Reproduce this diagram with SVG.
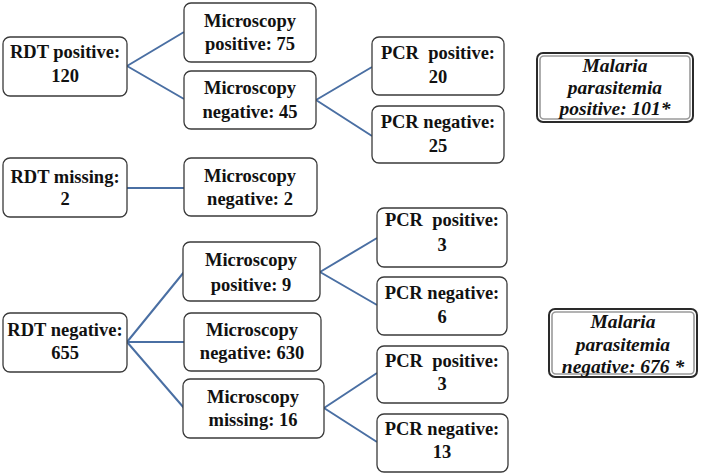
<svg xmlns="http://www.w3.org/2000/svg" width="701" height="475" viewBox="0 0 701 475" font-family="Liberation Serif, Times New Roman, serif">
<style>
.box{fill:#fff;stroke:#3a3a3a;stroke-width:1.3}
text{font-weight:bold;fill:#111;text-anchor:middle}
.t{font-size:18.5px}
.it{font-style:italic;font-size:19.5px}
.ob{fill:#fff;stroke:#2a2a2a;stroke-width:2}
.ib{fill:none;stroke:#9a9a9a;stroke-width:1.6}
.ln{stroke:#4a6fa3;stroke-width:2;fill:none}
</style>
<g id="connectors">
<path class="ln" d="M127,66 L184,32 M127,66 L184,99"/>
<path class="ln" d="M316,100 L372,67 M316,100 L372,136"/>
<path class="ln" d="M127,188 L184,188"/>
<path class="ln" d="M127,342 L184,272 M127,342 L184,342 M127,342 L184,408"/>
<path class="ln" d="M320,272 L377,238 M320,272 L377,305"/>
<path class="ln" d="M324,408 L377,373 M324,408 L377,442"/>
</g>
<g id="rdt-positive"><rect class="box" x="3" y="37" width="124" height="59" rx="7"/><text class="t" x="65" y="58">RDT positive:</text><text class="t" x="65" y="82">120</text></g>
<g id="micro-pos-75"><rect class="box" x="184" y="3" width="132" height="59" rx="7"/><text class="t" x="250" y="27">Microscopy</text><text class="t" x="250" y="50">positive: 75</text></g>
<g id="micro-neg-45"><rect class="box" x="184" y="71" width="132" height="58" rx="7"/><text class="t" x="250" y="94">Microscopy</text><text class="t" x="250" y="118">negative: 45</text></g>
<g id="pcr-pos-20"><rect class="box" x="372" y="37" width="132" height="58" rx="7"/><text class="t" x="438" y="59" xml:space="preserve">PCR  positive:</text><text class="t" x="438" y="83">20</text></g>
<g id="pcr-neg-25"><rect class="box" x="372" y="106" width="132" height="57" rx="7"/><text class="t" x="438" y="128">PCR negative:</text><text class="t" x="438" y="152">25</text></g>
<g id="malaria-positive"><rect class="ob" x="537" y="53" width="156" height="69" rx="6"/><rect class="ib" x="540" y="56" width="150" height="63" rx="4"/><text class="it" x="615" y="72">Malaria</text><text class="it" x="615" y="94">parasitemia</text><text class="it" x="615" y="115">positive: 101*</text></g>
<g id="rdt-missing"><rect class="box" x="3" y="158" width="124" height="59" rx="7"/><text class="t" x="65" y="183">RDT missing:</text><text class="t" x="65" y="205">2</text></g>
<g id="micro-neg-2"><rect class="box" x="184" y="158" width="133" height="58" rx="7"/><text class="t" x="250" y="182">Microscopy</text><text class="t" x="250" y="205">negative: 2</text></g>
<g id="micro-pos-9"><rect class="box" x="183" y="242" width="137" height="59" rx="7"/><text class="t" x="251" y="266">Microscopy</text><text class="t" x="251" y="291">positive: 9</text></g>
<g id="pcr-pos-3a"><rect class="box" x="377" y="208" width="130" height="59" rx="7"/><text class="t" x="442" y="226" xml:space="preserve">PCR  positive:</text><text class="t" x="442" y="251">3</text></g>
<g id="pcr-neg-6"><rect class="box" x="377" y="277" width="130" height="58" rx="7"/><text class="t" x="442" y="299">PCR negative:</text><text class="t" x="442" y="323">6</text></g>
<g id="rdt-negative"><rect class="box" x="3" y="313" width="124" height="59" rx="7"/><text class="t" x="65" y="336">RDT negative:</text><text class="t" x="65" y="359">655</text></g>
<g id="micro-neg-630"><rect class="box" x="184" y="313" width="137" height="58" rx="7"/><text class="t" x="252" y="336">Microscopy</text><text class="t" x="252" y="359">negative: 630</text></g>
<g id="micro-missing-16"><rect class="box" x="183" y="379" width="141" height="59" rx="7"/><text class="t" x="253" y="403">Microscopy</text><text class="t" x="253" y="426">missing: 16</text></g>
<g id="pcr-pos-3b"><rect class="box" x="377" y="346" width="131" height="57" rx="7"/><text class="t" x="442" y="367" xml:space="preserve">PCR  positive:</text><text class="t" x="442" y="390">3</text></g>
<g id="pcr-neg-13"><rect class="box" x="377" y="414" width="131" height="58" rx="7"/><text class="t" x="442" y="435">PCR negative:</text><text class="t" x="442" y="458">13</text></g>
<g id="malaria-negative"><rect class="ob" x="549" y="309" width="148" height="68" rx="6"/><rect class="ib" x="552" y="312" width="142" height="62" rx="4"/><text class="it" x="623" y="328">Malaria</text><text class="it" x="623" y="351">parasitemia</text><text class="it" x="623" y="373">negative: 676 *</text></g>
</svg>
